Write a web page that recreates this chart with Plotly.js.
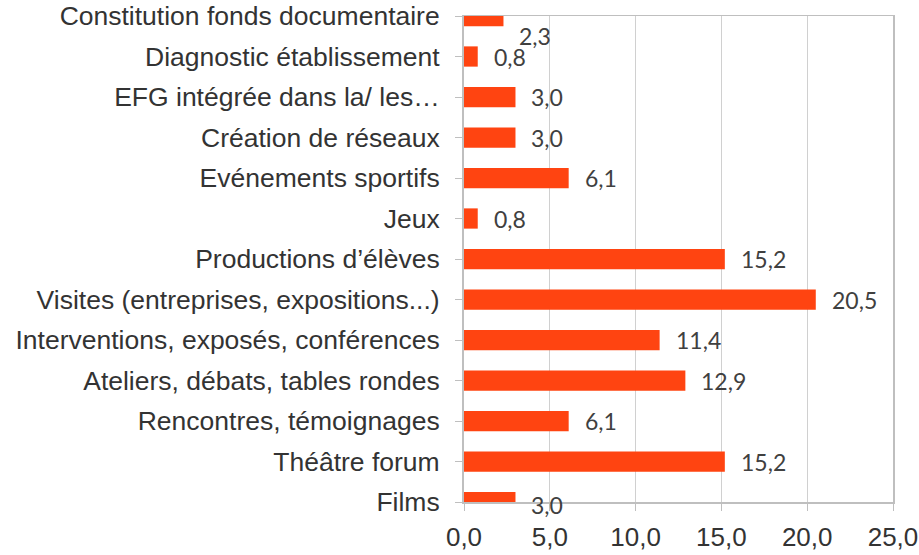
<!DOCTYPE html>
<html>
<head>
<meta charset="utf-8">
<script src="https://cdn.plot.ly/plotly-3.0.1.min.js"></script>
<style>html,body{margin:0;padding:0;background:#fff;}#chart{width:919px;height:555px;}</style>
</head>
<body>
<div id="chart"></div>
<script>
// Categories from bottom to top
const categories = [
  "Films",
  "Théâtre forum",
  "Rencontres, témoignages",
  "Ateliers, débats, tables rondes",
  "Interventions, exposés, conférences",
  "Visites (entreprises, expositions...)",
  "Productions d’élèves",
  "Jeux",
  "Evénements sportifs",
  "Création de réseaux",
  "EFG intégrée dans la/ les…",
  "Diagnostic établissement",
  "Constitution fonds documentaire"
];
const values = [3.0, 15.2, 6.1, 12.9, 11.4, 20.5, 15.2, 0.8, 6.1, 3.0, 3.0, 0.8, 2.3];
const xTicks = [0, 5, 10, 15, 20, 25];
const xTickLabels = ["0,0", "5,0", "10,0", "15,0", "20,0", "25,0"];

const labelYShift = values.map((v, i) => i === categories.length - 1 ? -20 : (i === 0 ? -3 : 0));

const trace = {
  type: 'bar',
  orientation: 'h',
  x: values,
  y: categories,
  width: 0.5,
  marker: {color: '#FF4411', line: {width: 0}},
  hoverinfo: 'x+y',
  cliponaxis: false
};

const annotations = values.map((v, i) => ({
  x: v,
  y: categories[i],
  xref: 'x',
  yref: 'y',
  text: v.toFixed(1).replace('.', ','),
  showarrow: false,
  xanchor: 'left',
  yanchor: 'middle',
  xshift: 14,
  yshift: labelYShift[i],
  font: {family: 'Lato, "Open Sans", sans-serif', size: 23, color: '#404040'}
}));

const layout = {
  width: 919,
  height: 555,
  margin: {l: 464, r: 26, t: 16, b: 53},
  paper_bgcolor: '#ffffff',
  plot_bgcolor: '#ffffff',
  showlegend: false,
  separators: ', ',
  font: {family: '"Liberation Sans", Arial, sans-serif', size: 26, color: '#333333'},
  xaxis: {
    range: [0, 25],
    tickvals: xTicks,
    ticktext: xTickLabels,
    showgrid: true,
    gridcolor: '#d0d0d0',
    gridwidth: 1,
    zeroline: false,
    showline: true,
    linecolor: '#bfbfbf',
    linewidth: 1.5,
    mirror: true,
    ticks: 'outside',
    ticklen: 7,
    tickcolor: '#bfbfbf',
    ticklabelstandoff: 4,
    tickfont: {family: '"Liberation Sans", Arial, sans-serif', size: 26, color: '#333333'},
    fixedrange: true
  },
  yaxis: {
    type: 'category',
    range: [0, 12],
    showgrid: false,
    zeroline: false,
    showline: true,
    linecolor: '#bfbfbf',
    linewidth: 2,
    mirror: true,
    ticks: 'outside',
    ticklen: 7,
    tickcolor: '#bfbfbf',
    ticklabelstandoff: 10,
    tickfont: {family: '"Liberation Sans", Arial, sans-serif', size: 26.5, color: '#333333'},
    automargin: false,
    fixedrange: true
  },
  annotations: annotations
};

Plotly.newPlot('chart', [trace], layout, {displayModeBar: false, staticPlot: true});
</script>
</body>
</html>
